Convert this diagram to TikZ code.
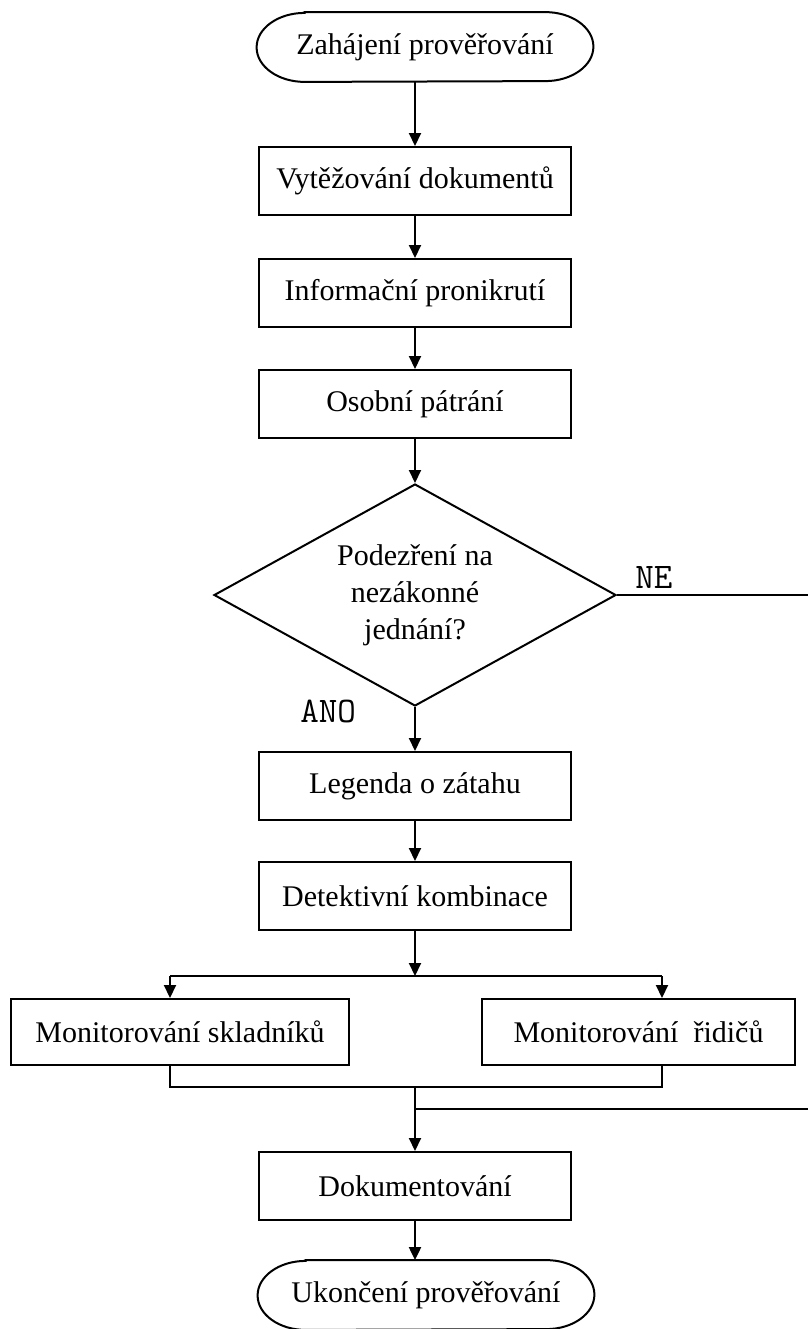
\documentclass[tikz,border=0pt]{standalone}
\usepackage{fontspec}
\setmainfont{Liberation Serif}
\usetikzlibrary{shapes.geometric,arrows.meta}

% outline of a start/end terminal with elliptical ends
\newcommand\termoutline[1]{%
  \draw[line width=1pt]
    ([xshift=24pt]#1.north west) -- ([xshift=-24pt]#1.north east)
    arc[start angle=90,end angle=-90,x radius=24pt,y radius=17.25pt]
    -- ([xshift=24pt]#1.south west)
    arc[start angle=270,end angle=90,x radius=24pt,y radius=17.25pt]
    -- cycle;}

\begin{document}
\begin{tikzpicture}[x=0.5pt,y=-0.5pt,
  every node/.style={font=\fontsize{15}{18.5}\selectfont},
  stepbox/.style={draw,line width=1pt,minimum width=156pt,minimum height=34pt,inner sep=0pt},
  sidebox/.style={draw,line width=1pt,minimum height=33pt,inner sep=0pt},
  terminal/.style={minimum width=168pt,minimum height=34.5pt,inner sep=0pt},
  decision/.style={draw,diamond,aspect=1.8,line width=1pt,minimum width=201pt,minimum height=111pt,inner sep=0pt,align=center},
  answer/.style={font=\ttfamily\fontsize{18}{20}\selectfont,inner sep=0pt,anchor=base west},
  flow/.style={line width=1pt},
  arr/.style={flow,-{Triangle[length=6.5pt,width=6pt]}}
]
\useasboundingbox (0,0) rectangle (808,1329);

% main column
\node[terminal] (start) at (425,47) {Zahájení prověřování};
\node[stepbox] (docs) at (415,181) {Vytěžování dokumentů};
\node[stepbox] (info) at (415,293) {Informační pronikrutí};
\node[stepbox] (search) at (415,404) {Osobní pátrání};
\node[decision] (suspect) at (415,595) {Podezření na\\nezákonné\\jednání?};
\node[stepbox] (legend) at (415,786) {Legenda o zátahu};
\node[stepbox] (combo) at (415,896) {Detektivní kombinace};
\node[sidebox,minimum width=169pt] (store) at (180,1032) {Monitorování skladníků};
\node[sidebox,minimum width=156.5pt] (drivers) at (638.5,1032) {Monitorování~~řidičů};
\node[stepbox] (record) at (415,1186) {Dokumentování};
\node[terminal] (finish) at (426,1295) {Ukončení prověřování};
\termoutline{start}
\termoutline{finish}

% branch labels
\node[answer] (no) at (635,588) {NE};
\node[answer] (yes) at (300,722) {ANO};

% junction points
\coordinate (splitC) at (415,976);
\coordinate (splitL) at (170,976);
\coordinate (splitR) at (662,976);
\coordinate (mergeL) at (170,1087);
\coordinate (mergeR) at (662,1087);
\coordinate (mergeC) at (415,1087);
\coordinate (retA) at (810,595);
\coordinate (retB) at (810,1109);
\coordinate (retC) at (415,1109);

% connectors
\draw[arr] (start.south -| docs.north) -- (docs.north);
\draw[arr] (docs) -- (info);
\draw[arr] (info) -- (search);
\draw[arr] (search) -- (suspect.north);
\draw[arr] (suspect.south) -- (legend.north);
\draw[arr] (legend) -- (combo);
\draw[arr] (combo.south) -- (splitC);
\draw[flow] (splitL) -- (splitR);
\draw[arr] (splitL) -- (splitL |- store.north);
\draw[arr] (splitR) -- (splitR |- drivers.north);
\draw[flow] (store.south -| mergeL) -- (mergeL) -- (mergeR) -- (drivers.south -| mergeR);
\draw[arr] (mergeC) -- (record.north);
\draw[flow] (suspect.east) -- (retA) -- (retB) -- (retC);
\draw[arr] (record.south) -- (record.south |- finish.north);
\end{tikzpicture}
\end{document}
